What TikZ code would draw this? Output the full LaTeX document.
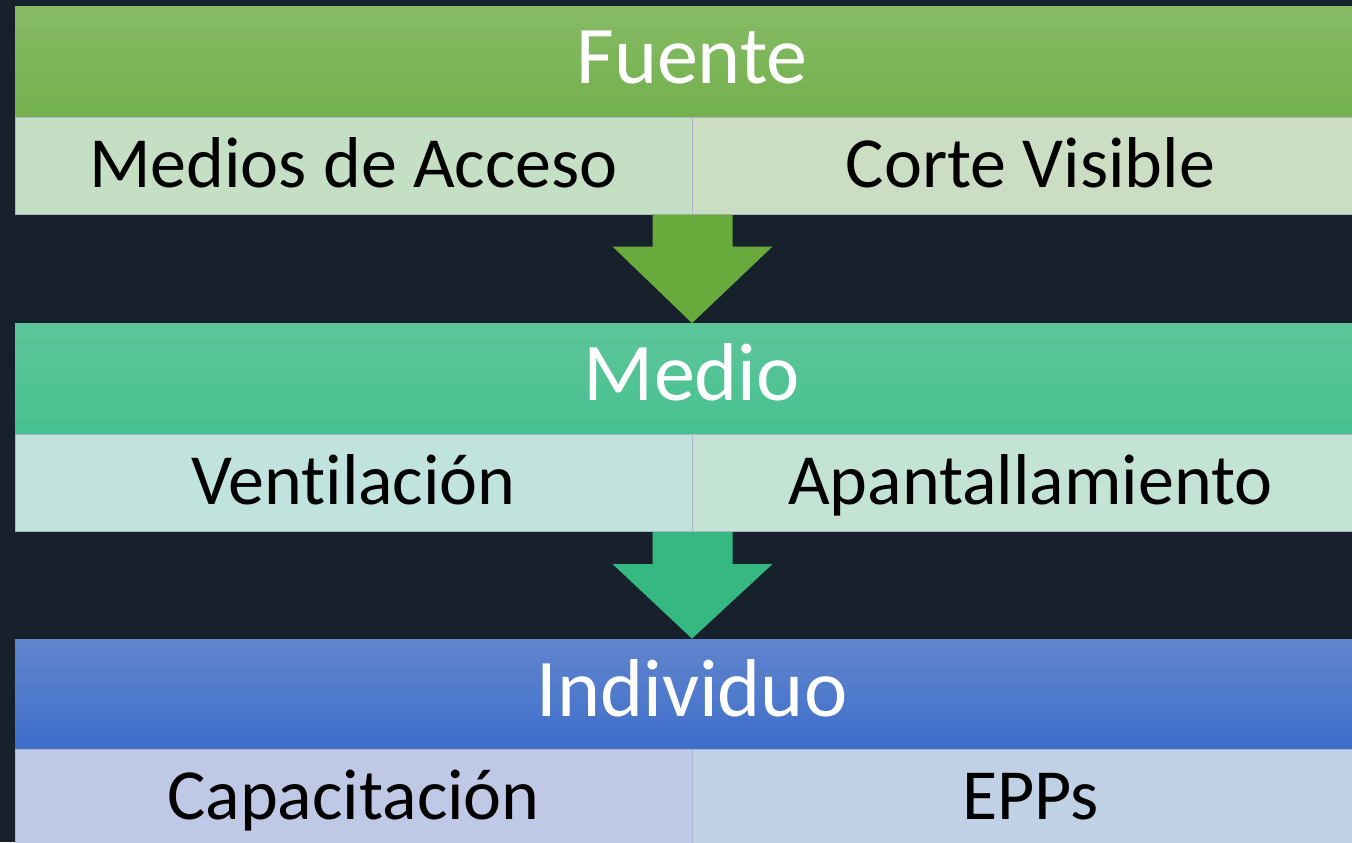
\documentclass[tikz,border=0pt]{standalone}
\usepackage{fontspec}
\setmainfont{Carlito}[Ligatures=NoCommon]
\usetikzlibrary{calc}

\definecolor{bgnavy}{HTML}{17212B}
\definecolor{subline}{HTML}{ADB4C8}
\definecolor{fuentetop}{HTML}{85BB65}
\definecolor{fuentebot}{HTML}{75B04E}
\definecolor{fuenteL}{HTML}{C5DFC5}
\definecolor{fuenteR}{HTML}{CBDEC4}
\definecolor{fuentearrow}{HTML}{68AA3C}
\definecolor{mediotop}{HTML}{5DC59B}
\definecolor{mediobot}{HTML}{47C190}
\definecolor{medioL}{HTML}{C0E3DD}
\definecolor{medioR}{HTML}{C3E3D5}
\definecolor{medioarrow}{HTML}{36B883}
\definecolor{indivtop}{HTML}{6285CC}
\definecolor{indivbot}{HTML}{3D6ECB}
\definecolor{indivL}{HTML}{BFC9E6}
\definecolor{indivR}{HTML}{C0D1E5}

\tikzset{
  header/.style={inner sep=0pt, minimum width=677pt, minimum height=55.5pt,
    text height=30pt, text depth=8.5pt, text=white,
    font=\fontsize{41}{41}\selectfont},
  subbox/.style={draw=subline, line width=0.5pt, inner sep=0pt,
    minimum width=338.5pt, minimum height=48.5pt,
    text height=30pt, text depth=8.5pt, text=black,
    font=\fontsize{36}{36}\selectfont},
}

\newcommand\blockdown[3]{% split node, target header, colour
  \fill[#3] ($(#1.south east)+(-20pt,0)$) -- ($(#1.south east)+(20pt,0)$)
    -- ($(#1.south east)+(20pt,-16pt)$) -- ($(#1.south east)+(40pt,-16pt)$)
    -- (#2.north) -- ($(#1.south east)+(-40pt,-16pt)$)
    -- ($(#1.south east)+(-20pt,-16pt)$) -- cycle;}

\begin{document}
\begin{tikzpicture}[x=0.5pt,y=-0.5pt]
\useasboundingbox (0,0) rectangle (1352,842);
\clip (0,0) rectangle (1352,842);
\fill[bgnavy] (0,0) rectangle (1352,842);

% Fuente
\node[header, top color=fuentetop, bottom color=fuentebot] (fhead) at (692,61.5) {Fuente};
\node[subbox, fill=fuenteL] (fsl) at (353.5,165.5) {Medios de Acceso};
\node[subbox, fill=fuenteR] (fsr) at (1030.5,165.5) {Corte Visible};

% Medio
\node[header, top color=mediotop, bottom color=mediobot] (mhead) at (692,379) {Medio};
\node[subbox, fill=medioL] (msl) at (353.5,483) {Ventilación};
\node[subbox, fill=medioR] (msr) at (1030.5,483) {Apantallamiento};

% Individuo
\node[header, top color=indivtop, bottom color=indivbot] (ihead) at (692,694.5) {Individuo};
\node[subbox, fill=indivL] (isl) at (353.5,797.5) {Capacitación};
\node[subbox, fill=indivR] (isr) at (1030.5,797.5) {EPPs};

\blockdown{fsl}{mhead}{fuentearrow}
\blockdown{msl}{ihead}{medioarrow}
\end{tikzpicture}
\end{document}
